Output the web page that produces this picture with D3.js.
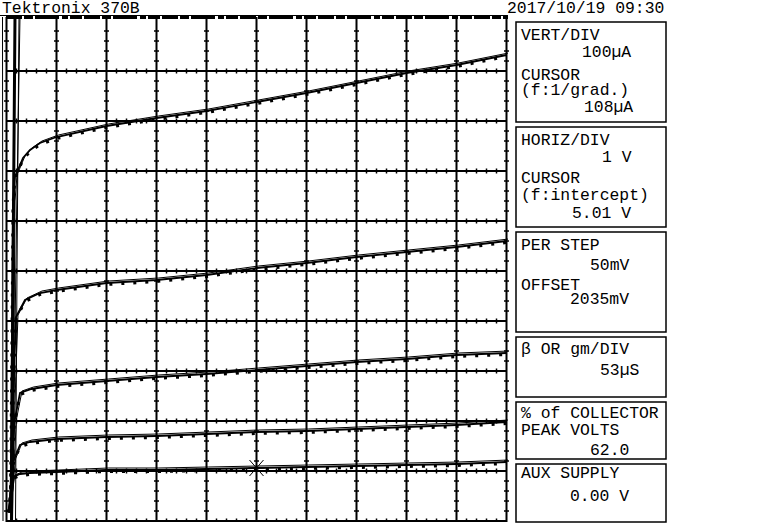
<!DOCTYPE html>
<html><head><meta charset="utf-8">
<script src="https://cdn.jsdelivr.net/npm/d3@7"></script>
<style>
body{margin:0;background:#fff}
svg{display:block}
text{font-family:"Liberation Mono","DejaVu Sans Mono",monospace;font-size:16.4px;fill:#000}
</style>
</head><body>
<svg id="c" width="768" height="528"></svg>
<script>
// ---------- data (Vce in V, Ic in µA) ----------
const title = "Tektronix 370B";
const timestamp = "2017/10/19 09:30";
const curve1 = [[0.04,20],[0.10,70],[0.13,88],[0.27,94],[0.47,96],[1,98],[2,102],[3,102],[4,104],[5,106],[6,108],[7,110],[8,112],[9,114],[10,118]];
const curve2 = [[0.05,20],[0.14,120],[0.27,152],[0.47,158],[1,164],[2,168],[3,170],[4,174],[5,178],[6,180],[7,184],[8,188],[9,192],[10,198]];
const curve3 = [[0.06,20],[0.16,200],[0.27,256],[0.5,264],[1,272],[2,280],[3,288],[4,294],[5,302],[6,310],[7,318],[8,324],[9,332],[10,336]];
const curve4 = [[0.07,20],[0.15,300],[0.19,408],[0.37,442],[0.67,456],[1,462],[2,476],[3,482],[4,492],[5,506],[6,516],[7,528],[8,538],[9,548],[10,560]];
const curve5 = [[0.08,20],[0.12,500],[0.13,636],[0.17,688],[0.33,726],[0.47,742],[0.67,756],[1,768],[2,790],[3,806],[4,820],[5,838],[6,856],[7,876],[8,896],[9,912],[10,932]];
const offscale1 = [[0.10,0],[0.13,500],[0.17,1010]];
const offscale2 = [[0.12,0],[0.20,600],[0.27,1010]];
const offscale3 = [[-0.07,0],[-0.08,1010]];
const visibleCurves = [curve1, curve2, curve3, curve4, curve5];
const offscaleCurves = [offscale1, offscale2, offscale3];
const cursorPoint = [5.0, 106];

const panelVert  = ["VERT/DIV","100µA","CURSOR","(f:1/grad.)","108µA"];
const panelHoriz = ["HORIZ/DIV","1 V","CURSOR","(f:intercept)","5.01 V"];
const panelStep  = ["PER STEP","50mV","OFFSET","2035mV"];
const panelBeta  = ["β OR gm/DIV","53µS"];
const panelPeak  = ["% of COLLECTOR","PEAK VOLTS","62.0"];
const panelAux   = ["AUX SUPPLY","0.00 V"];

// ---------- layout ----------
const panels = [
  {lines:panelVert,  y0:22,  y1:122, pos:[[521,40],[582,57],[521,80],[521,95],[584,112]]},
  {lines:panelHoriz, y0:127, y1:227, pos:[[521,145],[602,162],[521,183],[521,200],[572,218]]},
  {lines:panelStep,  y0:232, y1:332, pos:[[521,250],[590,270],[521,290],[570,304]]},
  {lines:panelBeta,  y0:337, y1:397, pos:[[521,354],[600,375]]},
  {lines:panelPeak,  y0:402, y1:459, pos:[[521,418],[521,435],[590,455]]},
  {lines:panelAux,   y0:464, y1:522, pos:[[521,478],[570,501]]}
];

const svg = d3.select("#c");
const x = d3.scaleLinear().domain([0,10]).range([6.5,506.5]);
const y = d3.scaleLinear().domain([0,1000]).range([521,21]);

// header
svg.append("text").attr("x",2).attr("y",13).text(title);
svg.append("text").attr("x",507).attr("y",13).text(timestamp);
svg.append("line").attr("x1",0).attr("x2",508).attr("y1",15.5).attr("y2",15.5)
  .attr("stroke","#000").attr("stroke-width",1);
svg.append("line").attr("x1",6).attr("x2",508).attr("y1",17.5).attr("y2",17.5)
  .attr("stroke","#000").attr("stroke-width",3).attr("stroke-dasharray","16 2 9 2 24 3 6 2 12 2");

// grid
const g = svg.append("g").attr("stroke","#000");
const majorX = d3.range(0,11,1);
const majorY = d3.range(0,1000,100);
g.selectAll("line.vx").data(majorX).join("line")
  .attr("x1",d=>x(d)).attr("x2",d=>x(d)).attr("y1",17).attr("y2",y(0)+1)
  .attr("stroke-width",2);
g.selectAll("line.hy").data(majorY).join("line")
  .attr("x1",x(0)).attr("x2",x(10)).attr("y1",d=>y(d)).attr("y2",d=>y(d))
  .attr("stroke-width",2);
// minor ticks
const minorY = d3.range(20,1000,20).filter(v=>v%100!==0);
const minorX = d3.range(1,50).map(i=>i*0.2).filter(v=>Math.abs(v-Math.round(v))>1e-6);
majorX.forEach(mx=>{
  g.append("g").selectAll("line").data(minorY).join("line")
    .attr("x1",x(mx)-2.5).attr("x2",x(mx)+2.5).attr("y1",d=>y(d)).attr("y2",d=>y(d))
    .attr("stroke-width",1.5);
});
majorY.forEach(my=>{
  g.append("g").selectAll("line").data(minorX).join("line")
    .attr("x1",d=>x(d)).attr("x2",d=>x(d)).attr("y1",y(my)-2.5).attr("y2",y(my)+(my===0?0:2.5))
    .attr("stroke-width",1.5);
});

// curves
svg.append("clipPath").attr("id","clip").append("rect")
  .attr("x",0).attr("y",17).attr("width",508).attr("height",505);
const cg = svg.append("g").attr("clip-path","url(#clip)").attr("fill","none").attr("stroke","#000");
const line = d3.line().x(d=>x(d[0])).y(d=>y(d[1]));
visibleCurves.forEach(c=>{
  cg.append("path").attr("d",line(c)).attr("stroke-width",1.8);
  cg.append("path").attr("d",line(c)).attr("stroke-width",1).attr("transform","translate(2,-2)");
  cg.append("path").attr("d",line(c)).attr("stroke-width",3).attr("stroke-dasharray","3 9")
    .attr("transform","translate(0,1.5)");
});
offscaleCurves.forEach((c,i)=>{
  cg.append("path").attr("d",line(c)).attr("stroke-width",i===0?3:1);
  if(i===0) cg.append("path").attr("d",line(c)).attr("stroke-width",1).attr("transform","translate(4,0)");
});

// cursor
const cx = x(cursorPoint[0]), cy = y(cursorPoint[1]);
const cur = svg.append("g").attr("stroke","#000").attr("stroke-width",1);
cur.append("line").attr("x1",cx-7).attr("y1",cy-8).attr("x2",cx+7).attr("y2",cy+8);
cur.append("line").attr("x1",cx-7).attr("y1",cy+8).attr("x2",cx+7).attr("y2",cy-8);
cur.append("line").attr("x1",cx-8).attr("y1",cy).attr("x2",cx+8).attr("y2",cy);

// right panel
const pg = svg.append("g");
panels.forEach(p=>{
  pg.append("rect").attr("x",516).attr("y",p.y0).attr("width",150).attr("height",p.y1-p.y0)
    .attr("fill","none").attr("stroke","#000").attr("stroke-width",1.5);
  p.lines.forEach((t,i)=>{
    pg.append("text").attr("x",p.pos[i][0]).attr("y",p.pos[i][1]).text(t);
  });
});
</script>
</body></html>
